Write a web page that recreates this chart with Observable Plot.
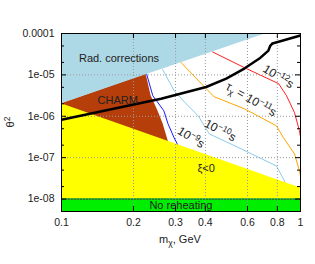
<!DOCTYPE html>
<html><head><meta charset="utf-8">
<script src="https://cdn.jsdelivr.net/npm/d3@7"></script>
<script src="https://cdn.jsdelivr.net/npm/@observablehq/plot@0.6"></script>
<style>body{margin:0;background:#fff}</style>
</head><body><div id="chart"></div>
<script>
// ---- data ----
const xTicks = [0.1, 0.2, 0.3, 0.4, 0.6, 0.8, 1];
const xTickLabels = ["0.1", "0.2", "0.3", "0.4", "0.6", "0.8", "1"];
const yTicks = [1e-4, 1e-5, 1e-6, 1e-7, 1e-8];
const yTickLabels = ["0.0001", "1e-05", "1e-06", "1e-07", "1e-08"];
const yMinor = [5e-5, 2e-5, 5e-6, 2e-6, 5e-7, 2e-7, 5e-8, 2e-8];
const xGrid = [0.2, 0.3, 0.4, 0.6, 0.8];
const yGrid = [1e-5, 1e-6, 1e-7, 1e-8];

// Rad. corrections region (lower boundary)
const radX = [0.1, 0.72];
const radLow = [2.0e-6, 1e-4];
// CHARM region (upper boundary; lower side hidden under yellow)
const charmX = [0.1, 0.226, 0.237, 0.253, 0.266, 0.281];
const charmTop = [2.0e-6, 1.05e-5, 3.14e-6, 1.36e-6, 6.58e-7, 2.3e-7];
// xi<0 region (upper boundary)
const xiX = [0.1, 1];
const xiTop = [2.0e-6, 1.85e-8];
// No reheating band
const noReheatTop = 1e-8;
const yMin = 5e-9, yMax = 1e-4;

// lifetime contours
const tau9X = [0.226, 0.241, 0.268, 0.279, 0.296, 0.319];
const tau9Y = [1.15e-5, 3.14e-6, 1.36e-6, 6.58e-7, 3.01e-7, 1.3e-7];
const tau10X = [0.265, 0.296, 0.332, 0.373, 0.415, 0.565, 0.793, 0.857, 0.875];
const tau10Y = [1.35e-5, 4.15e-6, 2.01e-6, 1.03e-6, 3.77e-7, 1.63e-7, 6.3e-8, 2.73e-8, 2.0e-8];
const tau11X = [0.316, 0.403, 0.435, 0.582, 0.793, 0.849, 0.944, 0.990, 1.0];
const tau11Y = [2.0e-5, 4.65e-6, 2.97e-6, 1.52e-6, 5.89e-7, 3.01e-7, 1.23e-7, 4.78e-8, 3.6e-8];
const tau12X = [0.428, 0.582, 0.810, 0.874, 0.944, 0.990, 1.0];
const tau12Y = [3.6e-5, 1.5e-5, 6.14e-6, 3.14e-6, 1.22e-6, 4.45e-7, 3.18e-7];

// thick black curve
const blackX = [0.1, 0.261, 0.403, 0.489, 0.582, 0.673, 0.734, 0.748, 0.763, 0.817, 1];
const blackY = [8.2e-7, 2.65e-6, 5.1e-6, 8.1e-6, 1.42e-5, 2.48e-5, 3.87e-5, 5.12e-5, 5.73e-5, 6.4e-5, 8.95e-5];

// annotations
const labelText = ["Rad. corrections", "CHARM", "ξ<0", "No reheating", "10^{−9}s", "10^{−10}s", "τ_{χ} = 10^{−11}s", "10^{−12}s"];
const labelX = [0.174, 0.172, 0.403, 0.316, 0.348, 0.461, 0.622, 0.808];
const labelY = [2.49e-5, 2.4e-6, 5.47e-8, 7.0e-9, 3.07e-7, 4.53e-7, 2.54e-6, 9.1e-6];
const labelRot = [0, 0, 0, 0, 32, 28, 30, 32];

// ---- build ----
const zip = (xs, ys) => xs.map((x, i) => ({x, y: ys[i]}));
const labels = labelText.map((t, i) => ({t, x: labelX[i], y: labelY[i], r: labelRot[i]}));
const plain = labels.filter(d => d.r === 0);
const rotated = labels.filter(d => d.r !== 0);
const fmt = (ticks, labs) => d => labs[ticks.findIndex(t => Math.abs(t - d) / t < 1e-6)] ?? "";

const PH = 264 - 33 - 53, PW = 315 - 61 - 15;
const font = "'Liberation Sans', Arial, Helvetica, sans-serif";

const chart = Plot.plot({
  width: 315, height: 264,
  marginLeft: 61, marginRight: 15, marginTop: 33, marginBottom: 53,
  x: {type: "log", domain: [0.1, 1]},
  y: {type: "log", domain: [yMin, yMax]},
  style: {fontFamily: font, fontSize: "10.5px", background: "white", color: "#222", overflow: "visible"},
  marks: [
    Plot.areaY(zip(charmX, charmTop), {x: "x", y1: noReheatTop, y2: "y", fill: "#b53e0b", clip: true}),
    Plot.line(zip(tau9X, tau9Y), {x: "x", y: "y", stroke: "#1a1aff", strokeWidth: 1, clip: true}),
    Plot.line(zip(tau10X, tau10Y), {x: "x", y: "y", stroke: "#87ceeb", strokeWidth: 1, clip: true}),
    Plot.line(zip(tau11X, tau11Y), {x: "x", y: "y", stroke: "#ffa500", strokeWidth: 1, clip: true}),
    Plot.line(zip(tau12X, tau12Y), {x: "x", y: "y", stroke: "#ff2020", strokeWidth: 1, clip: true}),
    Plot.areaY(zip(radX, radLow), {x: "x", y1: "y", y2: yMax, fill: "#add8e6", clip: true}),
    Plot.areaY(zip(xiX, xiTop), {x: "x", y1: noReheatTop, y2: "y", fill: "#ffff00", clip: true}),
    Plot.areaY(xiX, {x: d => d, y1: yMin, y2: noReheatTop, fill: "#00ee00", clip: true}),
    Plot.ruleY([noReheatTop], {stroke: "#0a7a0a", strokeWidth: 1.2}),
    Plot.ruleX(xGrid, {stroke: "#9a9a9a", strokeDasharray: "1,2"}),
    Plot.ruleY(yGrid, {stroke: "#9a9a9a", strokeDasharray: "1,2"}),
    Plot.line(zip(blackX, blackY), {x: "x", y: "y", stroke: "black", strokeWidth: 2.5, clip: true}),
    // ticks (inward, all sides)
    Plot.tickX(xTicks, {x: d => d, insetTop: PH - 5, stroke: "black"}),
    Plot.tickX(xTicks, {x: d => d, insetBottom: PH - 5, stroke: "black"}),
    Plot.tickY(yTicks, {y: d => d, insetRight: PW - 5, stroke: "black"}),
    Plot.tickY(yTicks, {y: d => d, insetLeft: PW - 5, stroke: "black"}),
    Plot.tickY(yMinor, {y: d => d, insetRight: PW - 3, stroke: "black"}),
    Plot.tickY(yMinor, {y: d => d, insetLeft: PW - 3, stroke: "black"}),
    Plot.frame({stroke: "black"}),
    Plot.axisX({ticks: xTicks, tickFormat: fmt(xTicks, xTickLabels), tickSize: 0, tickPadding: 7, label: null, fontSize: 10.5}),
    Plot.axisY({ticks: yTicks, tickFormat: fmt(yTicks, yTickLabels), tickSize: 0, tickPadding: 7, label: null, fontSize: 10.5}),
    Plot.text(plain, {x: "x", y: "y", text: "t", fontSize: 11, fill: "#222"}),
    Plot.text(rotated, {x: "x", y: "y", text: "t", rotate: "r", fontSize: 12, fill: "#222"})
  ]
});

document.getElementById("chart").appendChild(chart);

// rich text: ^{..} superscript, _{..} subscript
function rich(el) {
  const s = el.textContent;
  if (!/[\^_]\{/.test(s)) return;
  el.textContent = "";
  const re = /([\^_])\{([^}]*)\}|([^\^_]+)/g;
  let m, shift = 0;
  while ((m = re.exec(s))) {
    const t = document.createElementNS("http://www.w3.org/2000/svg", "tspan");
    if (m[1]) {
      const off = m[1] === "^" ? -4.5 : 3;
      t.setAttribute("dy", off - shift);
      t.setAttribute("font-size", "8.5px");
      t.textContent = m[2];
      shift = off;
    } else {
      t.setAttribute("dy", -shift);
      t.textContent = m[3];
      shift = 0;
    }
    el.appendChild(t);
  }
}
const svg = d3.select(chart);
svg.selectAll("text").each(function () { rich(this); });

// axis titles
svg.append("text").attr("x", 180).attr("y", 243).attr("text-anchor", "middle")
  .attr("font-size", 11).attr("fill", "#222").text("m_{χ}, GeV").each(function () { rich(this); });
svg.append("text").attr("transform", "translate(14,122) rotate(-90)").attr("text-anchor", "middle")
  .attr("font-size", 11).attr("fill", "#222").text("θ^{2}").each(function () { rich(this); });
</script></body></html>
